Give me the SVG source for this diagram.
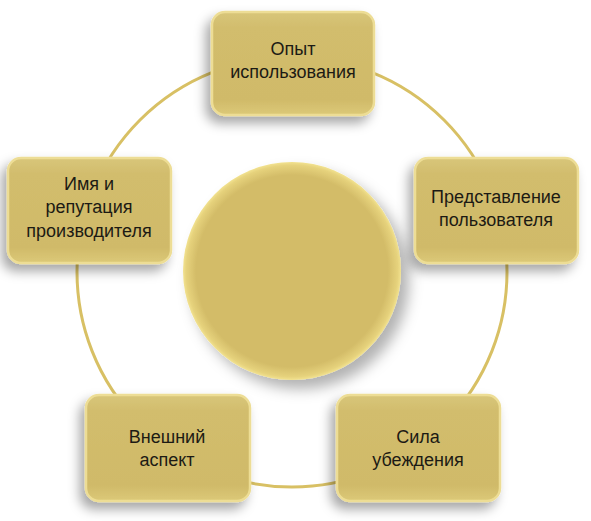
<svg xmlns="http://www.w3.org/2000/svg" width="591" height="521" viewBox="0 0 591 521">
<defs>
<linearGradient id="boxg" x1="0" y1="0" x2="0" y2="1">
<stop offset="0" stop-color="#D8C67A"/>
<stop offset="0.15" stop-color="#D2BD6D"/>
<stop offset="0.85" stop-color="#D0BA69"/>
<stop offset="1" stop-color="#DCC978"/>
</linearGradient>
<radialGradient id="circg" cx="0.5" cy="0.5" r="0.5">
<stop offset="0.88" stop-color="#D3BC68"/>
<stop offset="0.97" stop-color="#E6D27C"/>
<stop offset="1" stop-color="#F2E290"/>
</radialGradient>
<filter id="bsh" x="-20%" y="-20%" width="140%" height="150%">
<feDropShadow dx="-5" dy="7" stdDeviation="6" flood-color="#000" flood-opacity="0.35"/>
</filter>
<filter id="csh" x="-20%" y="-20%" width="150%" height="150%">
<feDropShadow dx="8" dy="9" stdDeviation="7" flood-color="#000" flood-opacity="0.3"/>
</filter>
</defs>
<style>
.box{fill:url(#boxg);stroke:#EDDD95;stroke-width:2.5;filter:url(#bsh)}
.lbl{font-family:"Liberation Sans",Arial,sans-serif;font-size:18px;fill:#1c1a14;text-anchor:middle}
.ring{fill:none;stroke:#D8C064;stroke-width:3}
</style>
<g id="connectors">
<circle class="ring" cx="292" cy="272" r="215"/>
</g>
<g id="center">
<circle cx="292" cy="271" r="109" fill="url(#circg)" filter="url(#csh)"/>
</g>
<g id="n1">
<rect class="box" x="212" y="12" width="162" height="103" rx="13"/>
<text class="lbl" x="293" y="55">Опыт</text>
<text class="lbl" x="293" y="78">использования</text>
</g>
<g id="n2">
<rect class="box" x="415" y="158" width="163" height="105" rx="13"/>
<text class="lbl" x="496" y="203">Представление</text>
<text class="lbl" x="496" y="226">пользователя</text>
</g>
<g id="n3">
<rect class="box" x="337" y="395" width="163" height="106" rx="13"/>
<text class="lbl" x="418" y="443">Сила</text>
<text class="lbl" x="418" y="466">убеждения</text>
</g>
<g id="n4">
<rect class="box" x="86" y="395" width="164" height="106" rx="13"/>
<text class="lbl" x="167" y="443">Внешний</text>
<text class="lbl" x="167" y="466">аспект</text>
</g>
<g id="n5">
<rect class="box" x="8" y="158" width="163" height="105" rx="13"/>
<text class="lbl" x="89" y="190">Имя и</text>
<text class="lbl" x="89" y="213">репутация</text>
<text class="lbl" x="89" y="237">производителя</text>
</g>
</svg>
